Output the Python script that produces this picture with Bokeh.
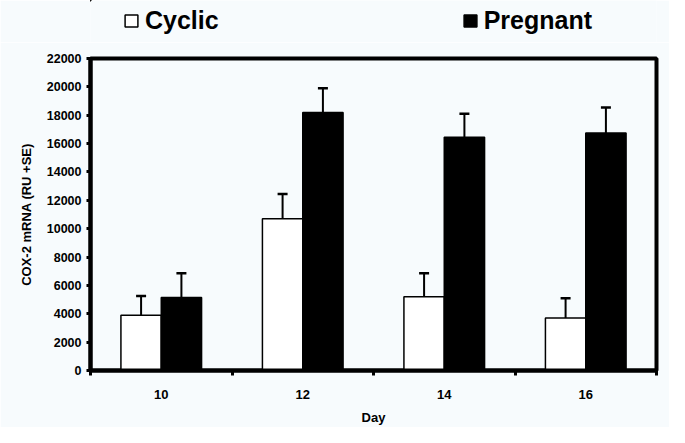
from bokeh.plotting import figure
from bokeh.models import (ColumnDataSource, Range1d, FixedTicker, Legend, LegendItem)
from bokeh.layouts import column
from bokeh.transform import dodge
from bokeh.embed import file_html
from bokeh.resources import INLINE

days = ["10", "12", "14", "16"]
cyclic = [3900, 10700, 5200, 3700]
cyclic_se = [1350, 1750, 1650, 1400]
pregnant = [5150, 18200, 16450, 16750]
pregnant_se = [1700, 1700, 1650, 1800]
y_ticks = list(range(0, 22001, 2000))

BG = "#f7fbfd"
FONT = "Liberation Sans"

centers = [i + 0.5 for i in range(len(days))]
src = ColumnDataSource(dict(
    x=centers,
    cyc=cyclic,
    cyc_top=[v + e for v, e in zip(cyclic, cyclic_se)],
    preg=pregnant,
    preg_top=[v + e for v, e in zip(pregnant, pregnant_se)],
))

bw = 0.285
CYC_STYLE = dict(fill_color="white", line_color="black", line_width=1.5)
PREG_STYLE = dict(fill_color="black", line_color="black", line_width=1.5)

# ---- main chart ----
p = figure(width=669, height=385, output_backend="svg", toolbar_location=None,
           x_range=Range1d(0, len(days)), y_range=Range1d(0, 22000),
           min_border_left=90, min_border_right=13, min_border_top=16, min_border_bottom=55)
p.background_fill_color = BG
p.border_fill_color = BG
p.grid.visible = False
p.outline_line_color = "black"
p.outline_line_width = 4

p.vbar(x=dodge("x", -bw / 2, range=p.x_range), top="cyc", width=bw, source=src, **CYC_STYLE)
p.vbar(x=dodge("x", bw / 2, range=p.x_range), top="preg", width=bw, source=src, **PREG_STYLE)

# error bars (upper only)
p.segment(x0=dodge("x", -bw / 2, range=p.x_range), y0="cyc",
          x1=dodge("x", -bw / 2, range=p.x_range), y1="cyc_top",
          source=src, line_color="black", line_width=2)
p.scatter(x=dodge("x", -bw / 2, range=p.x_range), y="cyc_top", marker="dash", size=10,
          line_color="black", line_width=2.5, source=src)
p.segment(x0=dodge("x", bw / 2, range=p.x_range), y0="preg",
          x1=dodge("x", bw / 2, range=p.x_range), y1="preg_top",
          source=src, line_color="black", line_width=2)
p.scatter(x=dodge("x", bw / 2, range=p.x_range), y="preg_top", marker="dash", size=10,
          line_color="black", line_width=2.5, source=src)

# x axis
xa = p.xaxis[0]
xa.ticker = FixedTicker(ticks=centers, minor_ticks=list(range(len(days) + 1)))
xa.major_label_overrides = {c: d for c, d in zip(centers, days)}
xa.major_tick_out = 0
xa.major_tick_in = 0
xa.minor_tick_out = 5
xa.minor_tick_in = 0
xa.minor_tick_line_width = 3
xa.axis_line_width = 4
xa.major_label_standoff = 14
xa.major_label_text_font = FONT
xa.major_label_text_font_style = "bold"
xa.major_label_text_font_size = "13px"
xa.major_label_text_color = "black"
xa.axis_label = "Day"
xa.axis_label_text_font = FONT
xa.axis_label_text_font_style = "bold"
xa.axis_label_text_font_size = "13px"
xa.axis_label_text_color = "black"
xa.axis_label_standoff = 8

# y axis
ya = p.yaxis[0]
ya.ticker = FixedTicker(ticks=y_ticks, minor_ticks=[])
ya.major_tick_out = 4
ya.major_tick_in = 0
ya.major_tick_line_width = 3
ya.axis_line_width = 4
ya.major_label_standoff = 5
ya.major_label_text_font = FONT
ya.major_label_text_font_style = "bold"
ya.major_label_text_font_size = "12.5px"
ya.major_label_text_color = "black"
ya.axis_label = "COX-2 mRNA (RU +SE)"
ya.axis_label_text_font = FONT
ya.axis_label_text_font_style = "bold"
ya.axis_label_text_font_size = "13px"
ya.axis_label_text_color = "black"
ya.axis_label_standoff = 10

# ---- legend strip on top (its bar renderers lie outside its visible ranges) ----
lg = figure(width=669, height=42, output_backend="svg", toolbar_location=None,
            x_range=Range1d(100, 101), y_range=Range1d(-200000, -100000),
            x_axis_location=None, y_axis_location=None,
            min_border_left=90, min_border_right=13, min_border_top=0, min_border_bottom=0)
lg.background_fill_color = BG
lg.border_fill_color = BG
lg.grid.visible = False
lg.outline_line_color = None
l_c = lg.vbar(x="x", top="cyc", width=bw, source=src, **CYC_STYLE)
l_p = lg.vbar(x="x", top="preg", width=bw, source=src, **PREG_STYLE)

legend = Legend(items=[LegendItem(label="Cyclic", renderers=[l_c]),
                       LegendItem(label="Pregnant", renderers=[l_p])],
                orientation="horizontal", location=(33, 7))
legend.label_text_font = FONT
legend.label_text_font_style = "bold"
legend.label_text_font_size = "25px"
legend.label_text_color = "black"
legend.glyph_width = 16
legend.glyph_height = 15
legend.label_standoff = 6
legend.spacing = 243
legend.padding = 0
legend.margin = 0
legend.background_fill_alpha = 0
legend.border_line_color = None
legend.label_height = 20
lg.add_layout(legend)

layout = column(lg, p, spacing=0)
open("out.html", "w").write(file_html(layout, INLINE))
